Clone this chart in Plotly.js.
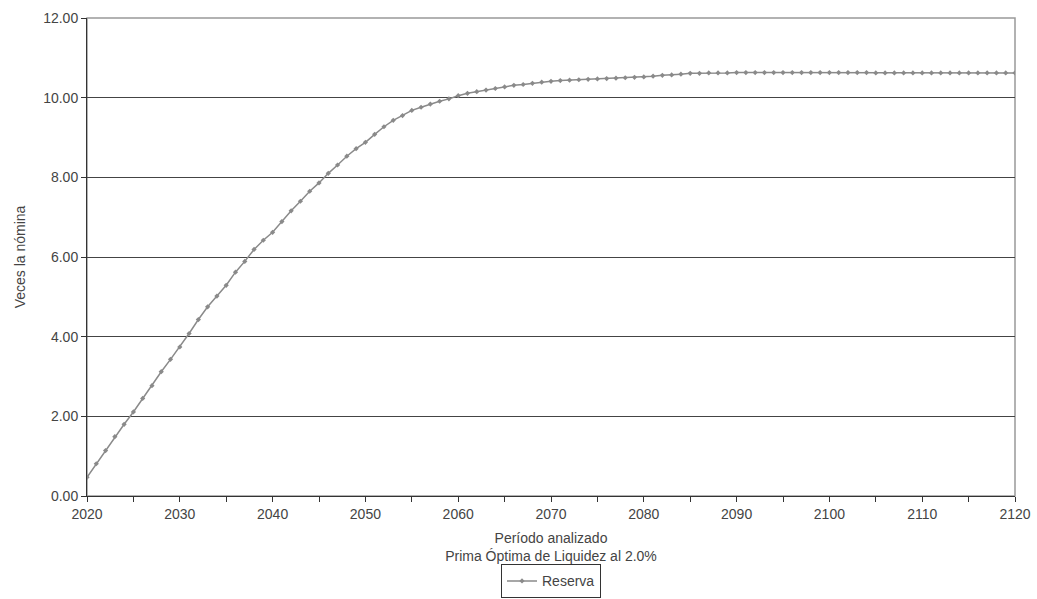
<!DOCTYPE html>
<html>
<head>
<meta charset="utf-8">
<script src="https://cdn.plot.ly/plotly-3.0.1.min.js"></script>
<style>html,body{margin:0;padding:0;background:#fff;}#chart{width:1037px;height:599px;}</style>
</head>
<body>
<div id="chart"></div>
<script>
var years = [];
for (var y = 2020; y <= 2120; y++) years.push(y);

var reserva = [
  0.47, 0.81, 1.14, 1.49, 1.80, 2.11, 2.45, 2.77, 3.12, 3.43,
  3.74, 4.08, 4.43, 4.75, 5.02, 5.29, 5.62, 5.89, 6.19, 6.42,
  6.62, 6.89, 7.16, 7.40, 7.65, 7.86, 8.10, 8.31, 8.53, 8.72,
  8.88, 9.08, 9.27, 9.43, 9.55, 9.68, 9.76, 9.84, 9.91, 9.97,
  10.05, 10.11, 10.15, 10.19, 10.23, 10.27, 10.31, 10.33, 10.36, 10.39,
  10.41, 10.43, 10.44, 10.45, 10.46, 10.47, 10.48, 10.49, 10.50, 10.51,
  10.52, 10.54, 10.56, 10.57, 10.59, 10.61, 10.61, 10.62, 10.62, 10.62,
  10.63, 10.63, 10.63, 10.63, 10.63, 10.63, 10.63, 10.63, 10.63, 10.63,
  10.63, 10.63, 10.63, 10.63, 10.63, 10.62, 10.62, 10.62, 10.62, 10.62,
  10.62, 10.62, 10.62, 10.62, 10.62, 10.62, 10.62, 10.62, 10.62, 10.62,
  10.62
];

var xTickVals = [2020,2025,2030,2035,2040,2045,2050,2055,2060,2065,2070,2075,2080,2085,2090,2095,2100,2105,2110,2115,2120];
var xTickText = ['2020','','2030','','2040','','2050','','2060','','2070','','2080','','2090','','2100','','2110','','2120'];
var yTickVals = [0,2,4,6,8,10,12];
var yTickText = ['0.00','2.00','4.00','6.00','8.00','10.00','12.00'];

var seriesName = 'Reserva';
var xTitle = 'Período analizado<br>Prima Óptima de Liquidez al 2.0%';
var yTitle = 'Veces la nómina';

var font = {family: 'Liberation Sans, Arial, sans-serif', size: 14, color: '#444'};

var trace = {
  x: years, y: reserva, name: seriesName, type: 'scatter', mode: 'lines+markers',
  line: {color: '#8a8a8a', width: 1.5},
  marker: {color: '#8a8a8a', size: 4, symbol: 'diamond'}
};

var layout = {
  width: 1037, height: 599,
  margin: {l: 87, r: 22, t: 18, b: 103, autoexpand: false},
  paper_bgcolor: '#fff', plot_bgcolor: '#fff',
  font: font,
  showlegend: true,
  legend: {orientation: 'h', x: 0.5, xanchor: 'center', y: -0.214, yanchor: 'bottom',
           bordercolor: '#333', borderwidth: 1, font: font},
  xaxis: {
    range: [2020, 2120], tickmode: 'array', tickvals: xTickVals, ticktext: xTickText,
    ticks: 'outside', ticklen: 5, tickcolor: '#333', showgrid: false, zeroline: false,
    showline: true, linecolor: '#333', linewidth: 1,
    title: {text: xTitle, font: font, standoff: 12},
    automargin: false
  },
  yaxis: {
    range: [0, 12], tickmode: 'array', tickvals: yTickVals, ticktext: yTickText,
    ticks: 'outside', ticklen: 5, tickcolor: '#333', showgrid: true, gridcolor: '#444', gridwidth: 1,
    zeroline: false, showline: true, linecolor: '#333', linewidth: 1,
    title: {text: yTitle, font: font, standoff: 14},
    automargin: false
  },
  shapes: [{type: 'rect', xref: 'paper', yref: 'paper', x0: 0, x1: 1, y0: 0, y1: 1,
            line: {color: '#999', width: 1.5}, layer: 'below'}]
};

Plotly.newPlot('chart', [trace], layout, {displayModeBar: false, staticPlot: true});
</script>
</body>
</html>
